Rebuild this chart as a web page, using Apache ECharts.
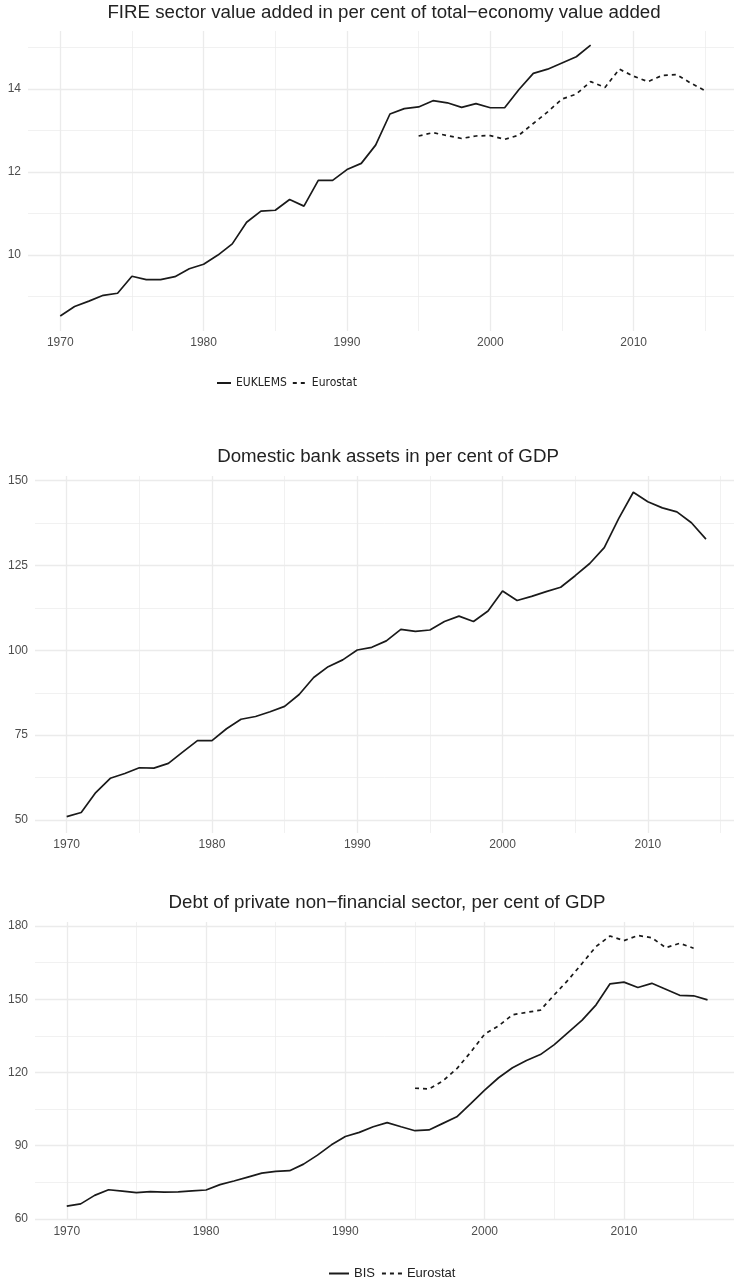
<!DOCTYPE html>
<html>
<head>
<meta charset="utf-8">
<script src="https://cdn.jsdelivr.net/npm/echarts@6/dist/echarts.min.js"></script>
<style>
  html, body { margin: 0; padding: 0; background: #fff; }
  #main { width: 734px; height: 1281px; }
</style>
</head>
<body>
<div id="main"></div>
<script>
// FIRE sector value added, % of total economy
const euklemsYears = [1970, 1971, 1972, 1973, 1974, 1975, 1976, 1977, 1978, 1979,
  1980, 1981, 1982, 1983, 1984, 1985, 1986, 1987, 1988, 1989,
  1990, 1991, 1992, 1993, 1994, 1995, 1996, 1997, 1998, 1999,
  2000, 2001, 2002, 2003, 2004, 2005, 2006, 2007];
const euklemsVals = [8.53, 8.76, 8.89, 9.03, 9.08, 9.49, 9.41, 9.41, 9.48, 9.67,
  9.78, 10.0, 10.27, 10.79, 11.06, 11.08, 11.34, 11.18, 11.8, 11.8,
  12.06, 12.21, 12.65, 13.40, 13.53, 13.57, 13.72, 13.67, 13.56, 13.65,
  13.55, 13.55, 13.99, 14.38, 14.48, 14.63, 14.78, 15.06];
const fireEuroYears = [1995, 1996, 1997, 1998, 1999, 2000, 2001, 2002, 2003, 2004,
  2005, 2006, 2007, 2008, 2009, 2010, 2011, 2012, 2013, 2014, 2015];
const fireEuroVals = [12.87, 12.95, 12.88, 12.81, 12.87, 12.88, 12.79, 12.89, 13.17, 13.45,
  13.76, 13.88, 14.18, 14.04, 14.48, 14.31, 14.18, 14.33, 14.35, 14.14, 13.96];

// Domestic bank assets, % of GDP
const bankYears = [1970, 1971, 1972, 1973, 1974, 1975, 1976, 1977, 1978, 1979,
  1980, 1981, 1982, 1983, 1984, 1985, 1986, 1987, 1988, 1989,
  1990, 1991, 1992, 1993, 1994, 1995, 1996, 1997, 1998, 1999,
  2000, 2001, 2002, 2003, 2004, 2005, 2006, 2007, 2008, 2009,
  2010, 2011, 2012, 2013, 2014];
const bankVals = [51.0, 52.2, 58.1, 62.3, 63.7, 65.4, 65.3, 66.7, 70.1, 73.4,
  73.4, 76.9, 79.7, 80.5, 81.9, 83.5, 87.0, 92.0, 95.2, 97.2,
  100.1, 100.9, 102.8, 106.2, 105.6, 106.0, 108.5, 110.1, 108.5, 111.6,
  117.5, 114.7, 115.9, 117.3, 118.6, 122.0, 125.6, 130.3, 138.9, 146.6,
  143.8, 142.0, 140.8, 137.6, 132.8];

// Private non-financial sector debt, % of GDP
const bisYears = [1970, 1971, 1972, 1973, 1974, 1975, 1976, 1977, 1978, 1979,
  1980, 1981, 1982, 1983, 1984, 1985, 1986, 1987, 1988, 1989,
  1990, 1991, 1992, 1993, 1994, 1995, 1996, 1997, 1998, 1999,
  2000, 2001, 2002, 2003, 2004, 2005, 2006, 2007, 2008, 2009,
  2010, 2011, 2012, 2013, 2014, 2015, 2016];
const bisVals = [65.2, 66.1, 69.6, 71.9, 71.3, 70.7, 71.1, 70.9, 71.0, 71.4,
  71.8, 74.0, 75.5, 77.1, 78.7, 79.4, 79.7, 82.4, 86.1, 90.3,
  93.7, 95.4, 97.7, 99.4, 97.7, 96.1, 96.4, 99.1, 101.8, 107.2,
  112.7, 117.8, 121.9, 124.9, 127.3, 131.4, 136.4, 141.4, 147.7, 156.3,
  157.0, 154.8, 156.5, 154.1, 151.6, 151.4, 149.7];
const debtEuroYears = [1995, 1996, 1997, 1998, 1999, 2000, 2001, 2002, 2003, 2004,
  2005, 2006, 2007, 2008, 2009, 2010, 2011, 2012, 2013, 2014, 2015];
const debtEuroVals = [113.5, 113.2, 116.5, 121.5, 128.3, 135.7, 139.1, 143.6, 144.6, 145.5,
  151.8, 157.9, 164.7, 171.6, 175.9, 174.0, 176.1, 175.2, 171.1, 172.9, 170.9];

// tick positions
const yearTicks = [1970, 1980, 1990, 2000, 2010];
const yearMinor = [1975, 1985, 1995, 2005, 2015];
const fireTicks = [10, 12, 14];
const fireMinor = [9, 11, 13, 15];
const bankTicks = [50, 75, 100, 125, 150];
const bankMinor = [62.5, 87.5, 112.5, 137.5];
const debtTicks = [60, 90, 120, 150, 180];
const debtMinor = [75, 105, 135, 165];

const titles = [
  'FIRE sector value added in per cent of total\u2212economy value added',
  'Domestic bank assets in per cent of GDP',
  'Debt of private non\u2212financial sector, per cent of GDP'
];

const FONT = '"Liberation Sans", Arial, sans-serif';
const LINE = '#1a1a1a';
const GRID_COL = '#ebebeb';

function pairs(xs, ys) {
  return xs.map((x, i) => [x, ys[i]]);
}

// one panel = a grid with a labelled (major) axis pair and an unlabelled (minor) pair
function xAxes(gridIndex, min, max) {
  return [
    {
      type: 'value', gridIndex, min, max,
      axisLine: { show: false },
      axisTick: { show: false, customValues: yearTicks },
      axisLabel: { customValues: yearTicks, formatter: v => String(v),
        color: '#4d4d4d', fontSize: 12, fontFamily: FONT, margin: 6 },
      splitLine: { show: true, lineStyle: { color: GRID_COL, width: 1.3 } }
    },
    {
      type: 'value', gridIndex, min, max,
      axisLine: { show: false },
      axisTick: { show: false, customValues: yearMinor },
      axisLabel: { show: false },
      splitLine: { show: true, lineStyle: { color: GRID_COL, width: 0.7 } }
    }
  ];
}
function yAxes(gridIndex, min, max, ticks, minor) {
  return [
    {
      type: 'value', gridIndex, min, max,
      axisLine: { show: false },
      axisTick: { show: false, customValues: ticks },
      axisLabel: { customValues: ticks, color: '#4d4d4d', fontSize: 12, fontFamily: FONT, margin: 7 },
      splitLine: { show: true, lineStyle: { color: GRID_COL, width: 1.3 } }
    },
    {
      type: 'value', gridIndex, min, max,
      axisLine: { show: false },
      axisTick: { show: false, customValues: minor },
      axisLabel: { show: false },
      splitLine: { show: true, lineStyle: { color: GRID_COL, width: 0.7 } }
    }
  ];
}

function lineSeries(name, data, axisIdx, dashed) {
  return {
    name, type: 'line', data,
    xAxisIndex: axisIdx, yAxisIndex: axisIdx,
    symbol: 'none', smooth: false, animation: false,
    lineStyle: { color: LINE, width: 1.7, type: dashed ? [4, 4] : 'solid' },
    itemStyle: { color: LINE }
  };
}

const titleStyle = { fontSize: 18.7, fontWeight: 'normal', color: '#222', fontFamily: FONT };

const chart = echarts.init(document.getElementById('main'));
const option = {
  backgroundColor: '#fff',
  animation: false,
  title: [
    { text: titles[0], left: 384, top: 3, textAlign: 'center', padding: 0, textStyle: titleStyle },
    { text: titles[1], left: 388, top: 447, textAlign: 'center', padding: 0, textStyle: titleStyle },
    { text: titles[2], left: 387, top: 893, textAlign: 'center', padding: 0, textStyle: titleStyle }
  ],
  legend: [
    { data: ['EUKLEMS', 'Eurostat'], left: 216, top: 377, itemWidth: 14, itemHeight: 12, itemGap: 5,
      selectedMode: false, padding: 0,
      itemStyle: { opacity: 0 },
      textStyle: { fontSize: 12, color: '#222', fontFamily: '"Liberation Sans Narrow", "DejaVu Sans Condensed", sans-serif' } },
    { data: ['BIS', 'Eurostat'], left: 328, top: 1267, itemWidth: 20, itemHeight: 12, itemGap: 6,
      selectedMode: false, padding: 0,
      itemStyle: { opacity: 0 },
      textStyle: { fontSize: 13, color: '#222', fontFamily: FONT } }
  ],
  grid: [
    { left: 28, right: 0, top: 31, height: 300 },
    { left: 35, right: 0, top: 476, height: 357 },
    { left: 35, right: 0, top: 922, height: 298 }
  ],
  xAxis: [
    ...xAxes(0, 1967.75, 2017.0),
    ...xAxes(1, 1967.82, 2015.93),
    ...xAxes(2, 1967.72, 2017.9)
  ],
  yAxis: [
    ...yAxes(0, 8.17, 15.4, fireTicks, fireMinor),
    ...yAxes(1, 46.17, 151.39, bankTicks, bankMinor),
    ...yAxes(2, 59.5, 181.64, debtTicks, debtMinor)
  ],
  series: [
    lineSeries('EUKLEMS', pairs(euklemsYears, euklemsVals), 0, false),
    lineSeries('Eurostat', pairs(fireEuroYears, fireEuroVals), 0, true),
    lineSeries('Domestic bank assets', pairs(bankYears, bankVals), 2, false),
    lineSeries('BIS', pairs(bisYears, bisVals), 4, false),
    lineSeries('Eurostat', pairs(debtEuroYears, debtEuroVals), 4, true)
  ]
};
chart.setOption(option);
</script>
</body>
</html>
